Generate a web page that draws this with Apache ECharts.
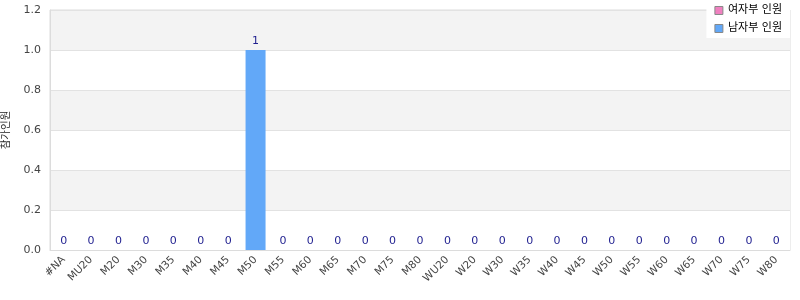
<!DOCTYPE html>
<html><head><meta charset="utf-8">
<script src="https://cdn.jsdelivr.net/npm/echarts@6/dist/echarts.min.js"></script>
<style>html,body{margin:0;padding:0;background:#fff}#c{width:800px;height:300px}</style>
</head><body><div id="c"></div>
<script>
const categories = ['#NA','MU20','M20','M30','M35','M40','M45','M50','M55','M60','M65','M70','M75','M80','WU20','W20','W30','W35','W40','W45','W50','W55','W60','W65','W70','W75','W80'];
const femaleValues = [0,0,0,0,0,0,0,0,0,0,0,0,0,0,0,0,0,0,0,0,0,0,0,0,0,0,0];
const maleValues   = [0,0,0,0,0,0,0,1,0,0,0,0,0,0,0,0,0,0,0,0,0,0,0,0,0,0,0];
const seriesNames = ['여자부 인원','남자부 인원'];
const yAxisName = '참가인원';
const yTicks = {min:0, max:1.2, interval:0.2};

const chart = echarts.init(document.getElementById('c'));
const font = 'DejaVu Sans, Noto Sans CJK KR, sans-serif';
const lbl = {show:true, position:'top', color:'#1f1f8f', fontSize:11, fontFamily:font, distance:3};
chart.setOption({
  animation:false,
  textStyle:{fontFamily:font},
  grid:{left:50, right:10, top:10, bottom:50, show:true, borderColor:'#dcdcdc', borderWidth:1,
        containLabel:false, outerBoundsMode:'none'},
  legend:{
    right:10, top:2, orient:'vertical', itemWidth:8, itemHeight:8, itemGap:7,
    backgroundColor:'#fff', padding:[3,8,4,8],
    textStyle:{fontSize:11, color:'#000', fontFamily:font},
    data:seriesNames.map((n,i)=>({name:n, icon:'rect', itemStyle:{borderColor:'#888', borderWidth:1}}))
  },
  xAxis:{
    type:'category', data:categories,
    axisLine:{lineStyle:{color:'#dcdcdc'}}, axisTick:{show:false},
    axisLabel:{rotate:45, color:'#444', fontSize:10.5, interval:0, margin:8, fontFamily:font}
  },
  yAxis:{
    type:'value', min:yTicks.min, max:yTicks.max, interval:yTicks.interval,
    name:yAxisName, nameLocation:'middle', nameGap:38, nameRotate:90,
    nameTextStyle:{fontSize:10.5, color:'#222', fontFamily:font},
    axisLine:{show:true, lineStyle:{color:'#dcdcdc'}}, axisTick:{show:false},
    axisLabel:{color:'#444', fontSize:11, formatter:v=>v.toFixed(1), margin:9, fontFamily:font},
    splitLine:{lineStyle:{color:'#e2e2e2'}},
    splitArea:{show:true, areaStyle:{color:['#ffffff','#f3f3f3']}}
  },
  series:[
    {name:seriesNames[0], type:'bar', stack:'s', data:femaleValues, barWidth:20,
     itemStyle:{color:'#f080c0'}, label:Object.assign({}, lbl, {show:false})},
    {name:seriesNames[1], type:'bar', stack:'s', data:maleValues, barWidth:20,
     itemStyle:{color:'#62a8f8'}, label:lbl}
  ]
});
</script></body></html>
